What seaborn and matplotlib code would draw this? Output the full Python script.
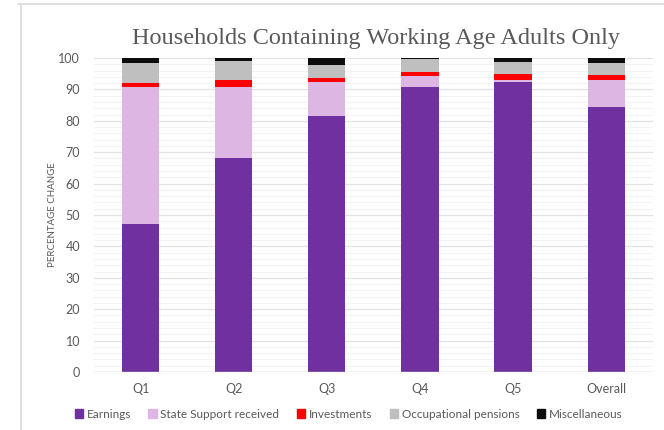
import pandas as pd
import numpy as np
import matplotlib
matplotlib.use('Agg')
import matplotlib.pyplot as plt
import seaborn as sns
from matplotlib.lines import Line2D

# Values (percent of household income)
groups = ['Q1', 'Q2', 'Q3', 'Q4', 'Q5', 'Overall']
earnings = [47.0, 68.0, 81.6, 90.8, 92.5, 84.4]
state_support = [43.9, 22.9, 10.8, 3.6, 0.6, 8.7]
investments = [1.1, 2.1, 1.4, 1.0, 1.8, 1.4]
pensions = [6.3, 6.1, 4.1, 4.4, 3.9, 4.0]
misc = [1.7, 0.9, 2.1, 1.2, 1.2, 1.5]

series_names = ['Earnings', 'State Support received', 'Investments',
                'Occupational pensions', 'Miscellaneous']
colors = ['#7030A0', '#DDB6E3', '#FF0000', '#BFBFBF', '#0D0D0D']

sns.set_style('white')
plt.rcParams['font.family'] = ['Lato', 'DejaVu Sans']

fig = plt.figure(figsize=(6.64, 4.30), dpi=100)
ax = fig.add_axes([0.1416, 0.135, 0.8414, 0.730])

# gridlines: faint minor every 2, major every 10
for v in np.arange(0, 101, 2):
    ax.axhline(v, color='#F2F2F2', lw=0.8, zorder=0)
for v in np.arange(0, 101, 10):
    ax.axhline(v, color='#E3E3E3', lw=0.9, zorder=0)

df = pd.DataFrame({'group': groups})
all_series = [earnings, state_support, investments, pensions, misc]
bottom = np.zeros(len(groups))
for name, vals, col in zip(series_names, all_series, colors):
    sns.barplot(x=df['group'], y=np.array(vals), bottom=bottom, color=col,
                saturation=1, width=0.4, ax=ax, label=name, zorder=2,
                linewidth=0, legend=False)
    bottom = bottom + np.array(vals)

if ax.get_legend() is not None:
    ax.get_legend().remove()

ax.set_xlim(-0.5, 5.5)
ax.set_ylim(0, 100)
ax.set_yticks(np.arange(0, 101, 10))
ax.set_xlabel('')
ax.set_ylabel('PERCENTAGE CHANGE', fontsize=7, color='#595959', labelpad=1)
ax.tick_params(axis='both', labelsize=9, colors='#595959', length=0)
ax.tick_params(axis='x', pad=8)
ax.tick_params(axis='y', pad=10)
for s in ax.spines.values():
    s.set_visible(False)
ax.axhline(0, color='#D9D9D9', lw=1, zorder=3)

fig.suptitle('Households Containing Working Age Adults Only',
             fontsize=17.5, color='#595959', family='Liberation Serif',
             x=0.566, y=0.935)

handles = [plt.Rectangle((0, 0), 1, 1, color=c) for c in colors]
fig.legend(handles, series_names, loc='center', bbox_to_anchor=(0.525, 0.037),
           ncol=5, frameon=False, fontsize=8.5, handlelength=0.7,
           handleheight=0.7, handletextpad=0.3, columnspacing=1.5,
           labelcolor='#595959')

# outer frame lines
fig.add_artist(Line2D([21 / 664, 21 / 664], [0, 1 - 4 / 430],
                      transform=fig.transFigure, color='#D9D9D9', lw=1.2))
fig.add_artist(Line2D([18 / 664, 1], [1 - 4 / 430, 1 - 4 / 430],
                      transform=fig.transFigure, color='#D9D9D9', lw=1.2))

fig.savefig('out.png', dpi=100)
